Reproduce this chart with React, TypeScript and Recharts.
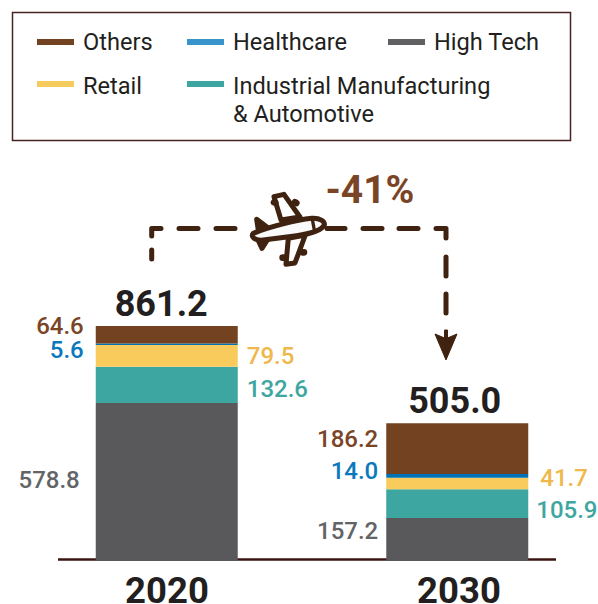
import React from "react";
import { BarChart, Bar, XAxis, YAxis, LabelList, Legend, ReferenceLine } from "recharts";

const years = ["2020", "2030"];
const highTech = [578.8, 157.2];
const industrial = [132.6, 105.9];
const retail = [79.5, 41.7];
const healthcare = [5.6, 14.0];
const others = [64.6, 186.2];
const totals = ["861.2", "505.0"];
const rows = years.map((year, i) => ({
  year,
  highTech: highTech[i],
  industrial: industrial[i],
  retail: retail[i],
  healthcare: healthcare[i],
  others: others[i],
}));

const FONT = "Roboto, sans-serif";
const DARK = "#231f20";
const LINE = "#3f2210";

// Offsets of each value label from the segment it describes: [2020, 2030].
const placement: Record<string, { side: "left" | "right"; gap: number[]; dy: number[]; color: string }> = {
  highTech: { side: "left", gap: [16, 8], dy: [-2, -8.5], color: "#636466" },
  industrial: { side: "right", gap: [9, 8], dy: [4, 6], color: "#3ea6a0" },
  retail: { side: "right", gap: [9, 12], dy: [0.5, -5], color: "#efb84a" },
  healthcare: { side: "left", gap: [12, 8], dy: [6, -5], color: "#0b78bd" },
  others: { side: "left", gap: [12, 8], dy: [-9, -9.5], color: "#7a4526" },
};

const fixed = (v: unknown) => Number(v).toFixed(1);

const sideLabel = (key: string) => (props: any) => {
  const { x, y, width, height, value, index } = props;
  const p = placement[key];
  const left = p.side === "left";
  return (
    <text
      x={left ? x - p.gap[index] : x + width + p.gap[index]}
      y={y + height / 2 + p.dy[index]}
      textAnchor={left ? "end" : "start"}
      dominantBaseline="central"
      fontFamily={FONT}
      fontSize={24}
      fontWeight={500}
      fill={p.color}
    >
      {fixed(value)}
    </text>
  );
};

const totalLabel = (props: any) => {
  const { x, y, width, index } = props;
  return (
    <text
      x={x + width / 2 + [-5.5, -2.5][index]}
      y={y - 22}
      textAnchor="middle"
      dominantBaseline="central"
      fontFamily={FONT}
      fontSize={36}
      fontWeight={700}
      fill={DARK}
    >
      {totals[index]}
    </text>
  );
};

const legendRows = [
  [
    { x: 37, text: ["Others"], color: "#734221" },
    { x: 187, text: ["Healthcare"], color: "#3a94cc" },
    { x: 388, text: ["High Tech"], color: "#606062" },
  ],
  [
    { x: 37, text: ["Retail"], color: "#f6cb5e" },
    { x: 187, text: ["Industrial Manufacturing", "& Automotive"], color: "#3ea6a0" },
  ],
];

const LegendBox = () => (
  <svg width={598} height={150} style={{ display: "block" }}>
    <rect x={12.5} y={12.5} width={558} height={128} fill="#fff" stroke="#4a2222" strokeWidth={1.5} />
    {legendRows.map((row, r) =>
      row.map((item) => (
        <g key={item.text[0]}>
          <rect x={item.x} y={39 + r * 42} width={37} height={6} fill={item.color} />
          {item.text.map((line, l) => (
            <text
              key={line}
              x={item.x + 46}
              y={42 + r * 44 + l * 28}
              dominantBaseline="central"
              fontFamily={FONT}
              fontSize={23.6}
              fill={DARK}
            >
              {line}
            </text>
          ))}
        </g>
      )),
    )}
  </svg>
);

const YearTick = (props: any) => {
  const { x, y, payload, index } = props;
  return (
    <text
      x={x + [0, 1.5][index]}
      y={y + 21}
      textAnchor="middle"
      dominantBaseline="central"
      fontFamily={FONT}
      fontSize={36.5}
      fontWeight={700}
      fill={DARK}
    >
      {payload.value}
    </text>
  );
};

// Dashed flight path, arrow head and aeroplane above the bars.
const FlightPath = () => (
  <svg width={598} height={604} style={{ position: "absolute", left: 0, top: 0, pointerEvents: "none" }}>
    <path
      d="M151.7 259V250M151.7 236V228.5H161M179 228.5H198M216 228.5H235M327 228.5H345M363 228.5H382M399 228.5H418M436 228.5H446V238M446 257V276M446 294V313"
      fill="none"
      stroke={LINE}
      strokeWidth={5}
      strokeLinecap="round"
      strokeLinejoin="round"
    />
    <path d="M444.5 330H447.5V338L457 334L446 360L435 334L444.5 338Z" fill={LINE} stroke={LINE} strokeWidth={1} strokeLinejoin="round" />
    <g transform="translate(130 165) scale(0.3333)" stroke={LINE} strokeWidth={15} strokeLinecap="round" strokeLinejoin="round">
      <path d="M385 195L380 163L410 185ZM384 225L396 250L415 220Z" fill={LINE} />
      <path d="M453 165L432 95L462 88L510 156Z" fill="#fff" />
      <path d="M475 220L468 298L495 294L526 210Z" fill="#fff" />
      <path d="M370 205C420 185 500 165 545 160C570 158 585 170 583 180C575 195 550 205 500 212L400 225C375 228 360 215 370 205Z" fill="#fafafa" />
      <path d="M548 168L553 195" fill="none" strokeWidth={10} />
      <path d="M432 112L436 113M495 112L499 114M458 278L462 278M518 262L522 262" strokeWidth={20} fill="none" />
    </g>
    <text x={325.5} y={190} dominantBaseline="central" fontFamily={FONT} fontSize={39} fontWeight={700} fill="#7a4526">
      -41%
    </text>
  </svg>
);

export default function App() {
  return (
    <div style={{ position: "absolute", left: 0, top: 0, width: 598, height: 604, background: "#fff" }}>
      <BarChart
        width={598}
        height={604}
        data={rows}
        margin={{ top: 138, right: 42, bottom: 0, left: 58 }}
        barSize={142}
      >
        <ReferenceLine y={5.5} stroke="#3a1510" strokeWidth={2.5} zIndex={0} />
        <XAxis
          dataKey="year"
          scale="point"
          padding={{ left: 109, right: 98.5 }}
          axisLine={false}
          tickLine={false}
          tick={<YearTick />}
          interval={0}
          height={43}
        />
        <YAxis hide domain={[0, 1000]} width={0} />
        <Legend
          verticalAlign="top"
          content={<LegendBox />}
          wrapperStyle={{ position: "absolute", left: 0, top: 0, width: 598, height: 150, bottom: "auto" }}
        />
        <Bar dataKey="highTech" name="High Tech" stackId="s" fill="#59595b" isAnimationActive={false}>
          <LabelList dataKey="highTech" content={sideLabel("highTech")} />
        </Bar>
        <Bar dataKey="industrial" name="Industrial Manufacturing & Automotive" stackId="s" fill="#3ea6a0" isAnimationActive={false}>
          <LabelList dataKey="industrial" content={sideLabel("industrial")} />
        </Bar>
        <Bar dataKey="retail" name="Retail" stackId="s" fill="#f9cb5d" isAnimationActive={false}>
          <LabelList dataKey="retail" content={sideLabel("retail")} />
        </Bar>
        <Bar dataKey="healthcare" name="Healthcare" stackId="s" fill="#0072b5" isAnimationActive={false}>
          <LabelList dataKey="healthcare" content={sideLabel("healthcare")} />
        </Bar>
        <Bar dataKey="others" name="Others" stackId="s" fill="#734221" isAnimationActive={false}>
          <LabelList dataKey="others" content={sideLabel("others")} />
          <LabelList dataKey="others" content={totalLabel} />
        </Bar>
      </BarChart>
      <FlightPath />
    </div>
  );
}
